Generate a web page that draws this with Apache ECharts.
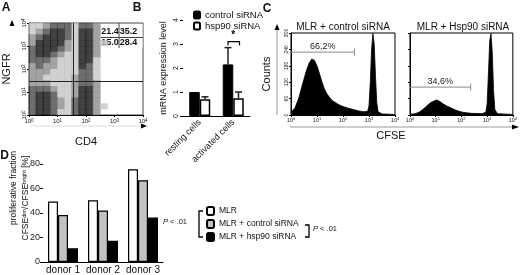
<!DOCTYPE html>
<html><head><meta charset="utf-8">
<script src="https://cdn.jsdelivr.net/npm/echarts@6/dist/echarts.min.js"></script>
<style>html,body{margin:0;padding:0;background:#fff}#c{width:520px;height:275px}</style>
</head><body><div id="c"></div>
<script>
// ---------- Panel A: flow cytometry (log10 units), density levels read per 0.25-decade bin ----------
const flowTicks = [0, 1, 2, 3, 4];
const flowBinSize = 0.25;
const flowDensityRows = [   // top row = NGFR 10^3.75..10^4, columns CD4 10^0..10^4
  "1123331332000000",
  "1234431442000000",
  "2344431442000000",
  "2444421442100000",
  "3444321442000000",
  "3443211442000000",
  "3332111441000000",
  "2322111431000000",
  "2221111331000000",
  "2211112331000000",
  "2221112332000000",
  "3332112442000000",
  "3443112442000000",
  "3443213442000000",
  "3443213442100000",
  "3443113442000000"
];
const flowGateCD4 = 1.57;
const flowGateNGFR = 1.48;
const flowQuadrants = [["21.4", "35.2"], ["15.0", "28.4"]];

// ---------- Panel B ----------
const bCategories = ["resting cells", "activated cells"];
const bControl = [1.0, 2.15];
const bControlErr = [0.0, 0.7];
const bHsp90 = [0.7, 0.74];
const bHsp90Err = [0.1, 0.26];
const bSignif = 3.1;

// ---------- Panel C: CFSE histograms [log10 CFSE, counts] ----------
const cCtrlHist = [[0,10],[0.15,25],[0.3,62],[0.45,115],[0.6,165],[0.7,190],[0.8,205],[0.9,200],[1.0,180],[1.1,150],[1.2,118],[1.3,92],[1.4,75],[1.5,62],[1.6,52],[1.7,46],[1.8,40],[1.9,35],[2.0,31],[2.2,25],[2.4,20],[2.6,15],[2.8,12],[2.95,14],[3.0,35],[3.05,120],[3.1,240],[3.15,298],[3.2,260],[3.25,140],[3.3,45],[3.35,12],[3.5,4],[4.0,2]];
const cHspHist = [[0,3],[0.2,5],[0.35,10],[0.5,20],[0.65,33],[0.8,45],[0.95,52],[1.05,55],[1.15,50],[1.3,40],[1.45,32],[1.6,26],[1.75,19],[1.9,14],[2.1,9],[2.4,6],[2.8,5],[2.95,10],[3.0,40],[3.05,150],[3.1,270],[3.15,298],[3.2,230],[3.25,90],[3.3,20],[3.4,5],[4.0,2]];
const cCtrlGate = [0, 2.44, 230, "66,2%"];
const cHspGate = [0, 2.36, 102, "34,6%"];
const cTitles = ["MLR + control siRNA", "MLR + Hsp90 siRNA"];

// ---------- Panel D ----------
const dDonors = ["donor 1", "donor 2", "donor 3"];
const dMLR = [49.3, 50.4, 75.7];
const dControl = [38.4, 42.1, 66.7];
const dHsp90 = [11.2, 17.3, 36.3];

const FONT = '"Liberation Sans", Arial, Helvetica, sans-serif';
const levelColor = ['rgba(0,0,0,0)', '#c6c6c6', '#8c8c8c', '#4a4a4a', '#111111'];
const flowPoints = [];
flowDensityRows.forEach((row, r) => {
  for (let c = 0; c < row.length; c++) {
    const lv = +row[c];
    if (lv) flowPoints.push([(c + 0.5) * flowBinSize, 4 - (r + 0.5) * flowBinSize, lv]);
  }
});

function logLabel(fs, extra) {
  return Object.assign({
    fontSize: fs, color: '#222', margin: 3,
    formatter: v => '{b|10}{s|' + v + '}',
    rich: { b: { fontSize: fs, fontFamily: FONT }, s: { fontSize: fs - 1.5, fontFamily: FONT, verticalAlign: 'top' } }
  }, extra || {});
}
const blackLine = { lineStyle: { color: '#000', width: 1 } };

const bErrData = bCategories.map((c, i) => [i, bControl[i], bControlErr[i], -1])
  .concat(bCategories.map((c, i) => [i, bHsp90[i], bHsp90Err[i], 1]));

function gateItem(api, label) {
  const a = api.coord([api.value(0), api.value(2)]);
  const b = api.coord([api.value(1), api.value(2)]);
  return { type: 'group', children: [
    { type: 'line', shape: { x1: a[0], y1: a[1], x2: b[0], y2: b[1] }, style: { stroke: '#8a8a8a', lineWidth: 1 } },
    { type: 'line', shape: { x1: b[0], y1: b[1] - 3.5, x2: b[0], y2: b[1] + 3.5 }, style: { stroke: '#8a8a8a', lineWidth: 1 } },
    { type: 'text', x: (a[0] + b[0]) / 2, y: a[1] - 1.5, style: { text: label, font: '9px ' + FONT, fill: '#222', align: 'center', verticalAlign: 'bottom' } }
  ] };
}

function buildGraphics() {
  const g = [];
  const txt = (x, y, text, font, extra) => Object.assign({ type: 'text', x: x, y: y, silent: true,
    style: { text: text, font: font, fill: '#111', align: 'center', verticalAlign: 'middle' } }, extra || {});
  // panel letters
  g.push(txt(6, 8, 'A', 'bold 12px ' + FONT), txt(137, 8, 'B', 'bold 12px ' + FONT),
         txt(267, 9, 'C', 'bold 12px ' + FONT), txt(4.5, 156, 'D', 'bold 12px ' + FONT));
  // panel A quadrant table
  g.push({ type: 'rect', silent: true, shape: { x: 101, y: 24, width: 41.5, height: 24 }, style: { fill: '#fff' } });
  const colX = [110, 128.5], rowY = [32, 43];
  flowQuadrants.forEach((row, r) => row.forEach((v, c) => g.push(txt(colX[c], rowY[r], v, 'bold 9px ' + FONT))));
  g.push({ type: 'line', silent: true, shape: { x1: 101, y1: 37.5, x2: 143, y2: 37.5 }, style: { stroke: '#444', lineWidth: 1 } });
  g.push({ type: 'line', silent: true, shape: { x1: 119, y1: 23, x2: 119, y2: 48 }, style: { stroke: '#444', lineWidth: 1 } });
  // panel A arrows
  g.push({ type: 'polygon', silent: true, shape: { points: [[9.5, 26], [14.5, 26], [12, 20]] }, style: { fill: '#000' } });
  g.push({ type: 'line', silent: true, shape: { x1: 30, y1: 126, x2: 141, y2: 126 }, style: { stroke: '#ddd', lineWidth: 1 } });
  g.push({ type: 'polygon', silent: true, shape: { points: [[141, 123.5], [141, 128.5], [147, 126]] }, style: { fill: '#000' } });
  // panel C titles, axis arrows, CFSE label
  g.push(txt(343, 27, cTitles[0], '10px ' + FONT), txt(463, 27, cTitles[1], '10px ' + FONT));
  g.push({ type: 'line', silent: true, shape: { x1: 277, y1: 115, x2: 277, y2: 29 }, style: { stroke: '#999', lineWidth: 1 } });
  g.push({ type: 'polygon', silent: true, shape: { points: [[274.5, 30], [279.5, 30], [277, 24]] }, style: { fill: '#000' } });
  g.push({ type: 'line', silent: true, shape: { x1: 290, y1: 127, x2: 513, y2: 127 }, style: { stroke: '#999', lineWidth: 1 } });
  g.push({ type: 'polygon', silent: true, shape: { points: [[512, 124.5], [512, 129.5], [519, 127]] }, style: { fill: '#000' } });
  g.push(txt(391, 136, 'CFSE', '11px ' + FONT));
  // panel D y-axis title (two lines)
  g.push(txt(13.5, 188, 'proliferative fraction', '8.5px ' + FONT, { rotation: Math.PI / 2 }));
  g.push({ type: 'text', x: 26, y: 198, rotation: Math.PI / 2, silent: true,
    style: { text: 'CFSE{s|dim}/CFSE{s|bright} [%]', font: '8.5px ' + FONT, fill: '#111', align: 'center', verticalAlign: 'middle',
      rich: { s: { fontSize: 5.5, fontFamily: FONT, verticalAlign: 'top', fill: '#111' } } } });
  // panel D significance brackets
  g.push({ type: 'polyline', silent: true, shape: { points: [[203, 211], [199, 211], [199, 237], [203, 237]] }, style: { stroke: '#000', lineWidth: 1.3, fill: null } });
  g.push({ type: 'text', x: 175, y: 222, silent: true, style: { text: '{i|P} < .01', font: '7.5px ' + FONT, fill: '#111', align: 'center', verticalAlign: 'middle',
    rich: { i: { fontStyle: 'italic', fontSize: 7.5, fontFamily: FONT } } } });
  g.push({ type: 'polyline', silent: true, shape: { points: [[305, 225], [309, 225], [309, 237], [305, 237]] }, style: { stroke: '#000', lineWidth: 1.3, fill: null } });
  g.push({ type: 'text', x: 325, y: 229, silent: true, style: { text: '{i|P} < .01', font: '7.5px ' + FONT, fill: '#111', align: 'center', verticalAlign: 'middle',
    rich: { i: { fontStyle: 'italic', fontSize: 7.5, fontFamily: FONT } } } });
  return g;
}

const chart = echarts.init(document.getElementById('c'));
chart.setOption({
  animation: false,
  textStyle: { fontFamily: FONT },
  grid: [
    { left: 23, top: 23, width: 120, height: 92, show: true, borderColor: '#444', borderWidth: 1 },
    { left: 183, top: 20, width: 67, height: 96 },
    { left: 291, top: 33, width: 104, height: 82, show: true, borderColor: '#000', borderWidth: 1 },
    { left: 410, top: 33, width: 106, height: 82, show: true, borderColor: '#000', borderWidth: 1 },
    { left: 43, top: 164, width: 120, height: 100 }
  ],
  xAxis: [
    { gridIndex: 0, type: 'value', min: 0, max: 4, interval: 1, name: 'CD4', nameLocation: 'middle', nameGap: 21,
      nameTextStyle: { fontSize: 11, color: '#111' }, axisLine: blackLine, axisTick: { length: 2 }, splitLine: { show: false },
      axisLabel: logLabel(6) },
    { gridIndex: 1, type: 'category', data: bCategories, axisLine: blackLine, axisTick: { show: false },
      axisLabel: { rotate: 45, fontSize: 9, color: '#111', margin: 5, interval: 0 } },
    { gridIndex: 2, type: 'value', min: 0, max: 4, interval: 1, axisLine: blackLine, axisTick: { length: 2 },
      splitLine: { show: false }, axisLabel: logLabel(5.5, { margin: 2 }) },
    { gridIndex: 3, type: 'value', min: 0, max: 4, interval: 1, axisLine: blackLine, axisTick: { length: 2 },
      splitLine: { show: false }, axisLabel: logLabel(5.5, { margin: 2 }) },
    { gridIndex: 4, type: 'category', data: dDonors, axisLine: blackLine, axisTick: { show: false },
      axisLabel: { fontSize: 10, color: '#111', margin: 3, interval: 0 } }
  ],
  yAxis: [
    { gridIndex: 0, type: 'value', min: 0, max: 4, interval: 1, name: 'NGFR', nameLocation: 'middle', nameGap: 17,
      nameTextStyle: { fontSize: 11, color: '#111' }, axisLine: blackLine, axisTick: { length: 2 }, splitLine: { show: false },
      axisLabel: logLabel(6, { rotate: 90, margin: 2 }) },
    { gridIndex: 1, type: 'value', min: 0, max: 4, interval: 1, name: 'mRNA expression level', nameLocation: 'middle', nameGap: 15,
      nameTextStyle: { fontSize: 9, color: '#111' }, axisLine: blackLine, axisTick: { show: true, length: 3, lineStyle: { color: '#000' } },
      splitLine: { show: false }, axisLabel: { rotate: 90, fontSize: 7, color: '#222', margin: 3 } },
    { gridIndex: 2, type: 'value', min: 0, max: 300, interval: 60, name: 'Counts', nameLocation: 'middle', nameGap: 19,
      nameTextStyle: { fontSize: 11, color: '#111' }, axisLine: blackLine, axisTick: { length: 2 }, splitLine: { show: false },
      axisLabel: { rotate: 90, fontSize: 5, color: '#222', margin: 2 } },
    { gridIndex: 3, type: 'value', min: 0, max: 300, interval: 60, axisLine: blackLine, axisTick: { length: 2 },
      splitLine: { show: false }, axisLabel: { show: false } },
    { gridIndex: 4, type: 'value', min: 0, max: 80, interval: 20, axisLine: blackLine,
      axisTick: { show: true, length: 3, lineStyle: { color: '#000' } }, splitLine: { show: false },
      axisLabel: { fontSize: 9, color: '#222', margin: 3 } }
  ],
  legend: [
    { data: ['control siRNA', 'hsp90 siRNA'], orient: 'vertical', left: 193, top: 10, padding: 0, itemWidth: 6, itemHeight: 7, itemGap: 1,
      textStyle: { fontSize: 9.5, lineHeight: 10, color: '#111' }, selectedMode: false },
    { data: ['MLR', 'MLR + control siRNA', 'MLR + hsp90 siRNA'], orient: 'vertical', left: 206, top: 205.5, padding: 0,
      itemWidth: 7, itemHeight: 8, itemGap: 2, textStyle: { fontSize: 8.5, lineHeight: 11, color: '#111' }, selectedMode: false }
  ],
  series: [
    { type: 'scatter', xAxisIndex: 0, yAxisIndex: 0, data: flowPoints, symbol: 'rect', symbolSize: [7.9, 6.1],
      itemStyle: { color: p => levelColor[p.value[2]] }, silent: true,
      markLine: { silent: true, symbol: 'none', label: { show: false }, lineStyle: { color: '#222', width: 1, type: 'solid' },
        data: [{ xAxis: flowGateCD4 }, { yAxis: flowGateNGFR }] } },
    { name: 'control siRNA', type: 'bar', xAxisIndex: 1, yAxisIndex: 1, data: bControl, barWidth: 10.5, barGap: '0%',
      itemStyle: { color: '#000', borderColor: '#000', borderWidth: 1 } },
    { name: 'hsp90 siRNA', type: 'bar', xAxisIndex: 1, yAxisIndex: 1, data: bHsp90, barWidth: 10.5, barGap: '0%',
      itemStyle: { color: '#fff', borderColor: '#000', borderWidth: 1.5 } },
    { type: 'custom', xAxisIndex: 1, yAxisIndex: 1, data: bErrData, silent: true, z: 5,
      renderItem: (params, api) => {
        const e = api.value(2);
        if (!e) return null;
        const p0 = api.coord([api.value(0), api.value(1)]);
        const p1 = api.coord([api.value(0), api.value(1) + e]);
        const x = p0[0] + api.value(3) * 5.25;
        return { type: 'group', children: [
          { type: 'line', shape: { x1: x, y1: p0[1], x2: x, y2: p1[1] }, style: { stroke: '#222', lineWidth: 1.5 } },
          { type: 'line', shape: { x1: x - 3.5, y1: p1[1], x2: x + 3.5, y2: p1[1] }, style: { stroke: '#222', lineWidth: 1.5 } }
        ] };
      } },
    { type: 'custom', xAxisIndex: 1, yAxisIndex: 1, data: [[1, bSignif]], silent: true,
      renderItem: (params, api) => {
        const c = api.coord([api.value(0), api.value(1)]);
        const lo = api.coord([api.value(0), api.value(1) - 0.15]);
        const xl = c[0] - 5.25, xr = c[0] + 5.25 + 1;
        return { type: 'group', children: [
          { type: 'polyline', shape: { points: [[xl, lo[1]], [xl, c[1]], [xr, c[1]], [xr, lo[1]]] }, style: { stroke: '#000', lineWidth: 1.2, fill: null } },
          { type: 'text', x: c[0], y: c[1] - 1, style: { text: '*', font: 'bold 10px ' + FONT, align: 'center', verticalAlign: 'bottom', fill: '#000' } }
        ] };
      } },
    { type: 'line', xAxisIndex: 2, yAxisIndex: 2, data: cCtrlHist, symbol: 'none', silent: true,
      lineStyle: { color: '#000', width: 0.8 }, areaStyle: { color: '#000', opacity: 1 } },
    { type: 'line', xAxisIndex: 3, yAxisIndex: 3, data: cHspHist, symbol: 'none', silent: true,
      lineStyle: { color: '#000', width: 0.8 }, areaStyle: { color: '#000', opacity: 1 } },
    { type: 'custom', xAxisIndex: 2, yAxisIndex: 2, data: [cCtrlGate], silent: true,
      renderItem: (params, api) => gateItem(api, cCtrlGate[3]) },
    { type: 'custom', xAxisIndex: 3, yAxisIndex: 3, data: [cHspGate], silent: true,
      renderItem: (params, api) => gateItem(api, cHspGate[3]) },
    { name: 'MLR', type: 'bar', xAxisIndex: 4, yAxisIndex: 4, data: dMLR, barWidth: 10, barGap: '0%',
      itemStyle: { color: '#fff', borderColor: '#000', borderWidth: 1.2 } },
    { name: 'MLR + control siRNA', type: 'bar', xAxisIndex: 4, yAxisIndex: 4, data: dControl, barWidth: 10, barGap: '0%',
      itemStyle: { color: '#c2c2c2', borderColor: '#000', borderWidth: 1.2 } },
    { name: 'MLR + hsp90 siRNA', type: 'bar', xAxisIndex: 4, yAxisIndex: 4, data: dHsp90, barWidth: 10, barGap: '0%',
      itemStyle: { color: '#000', borderColor: '#000', borderWidth: 1.2 } }
  ],
  graphic: buildGraphics()
});
</script></body></html>
